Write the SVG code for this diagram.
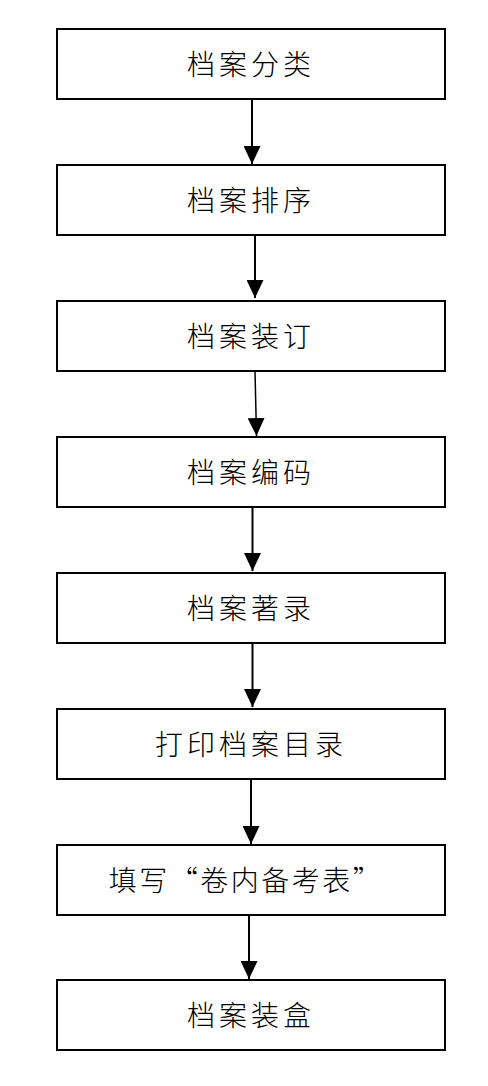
<svg xmlns="http://www.w3.org/2000/svg" width="488" height="1086" viewBox="0 0 488 1086">
<style>
.box{fill:#fff;stroke:#000;stroke-width:2}
.lbl{font-family:"Noto Sans CJK SC","Noto Sans CJK JP",sans-serif;font-weight:300;font-size:28px;letter-spacing:4px;fill:#000;text-anchor:middle;dominant-baseline:central}
.conn{stroke:#000;stroke-width:2;fill:none;marker-end:url(#ah)}
</style>
<defs>
<marker id="ah" viewBox="0 0 18 17" refX="18" refY="8.5" markerWidth="18" markerHeight="17" markerUnits="userSpaceOnUse" orient="auto">
<path d="M0,0 L18,8.5 L0,17 z" fill="#000"/>
</marker>
</defs>
<rect width="488" height="1086" fill="#fff"/>
<g id="connectors">
<line class="conn" x1="252" y1="99" x2="252" y2="164"/>
<line class="conn" x1="255" y1="236" x2="255" y2="298"/>
<line class="conn" x1="255" y1="371" x2="256.5" y2="436" style="stroke-width:1.5"/>
<line class="conn" x1="252.5" y1="507" x2="252.5" y2="571"/>
<line class="conn" x1="252.5" y1="644" x2="252.5" y2="707"/>
<line class="conn" x1="251" y1="780" x2="251" y2="844"/>
<line class="conn" x1="249" y1="916" x2="249" y2="979"/>
</g>
<g id="n1"><rect class="box" x="57" y="29" width="388" height="70"/><text class="lbl" x="251" y="63">档案分类</text></g>
<g id="n2"><rect class="box" x="57" y="165" width="388" height="70"/><text class="lbl" x="251" y="199">档案排序</text></g>
<g id="n3"><rect class="box" x="57" y="301" width="388" height="70"/><text class="lbl" x="251" y="335">档案装订</text></g>
<g id="n4"><rect class="box" x="57" y="437" width="388" height="70"/><text class="lbl" x="251" y="471">档案编码</text></g>
<g id="n5"><rect class="box" x="57" y="573" width="388" height="70"/><text class="lbl" x="251" y="607">档案著录</text></g>
<g id="n6"><rect class="box" x="57" y="709" width="388" height="70"/><text class="lbl" x="251" y="743">打印档案目录</text></g>
<g id="n7"><rect class="box" x="57" y="845" width="388" height="70"/><text class="lbl" x="246" y="879" style="letter-spacing:2.5px">填写“卷内备考表”</text></g>
<g id="n8"><rect class="box" x="57" y="980" width="388" height="70"/><text class="lbl" x="251" y="1014">档案装盒</text></g>
</svg>
